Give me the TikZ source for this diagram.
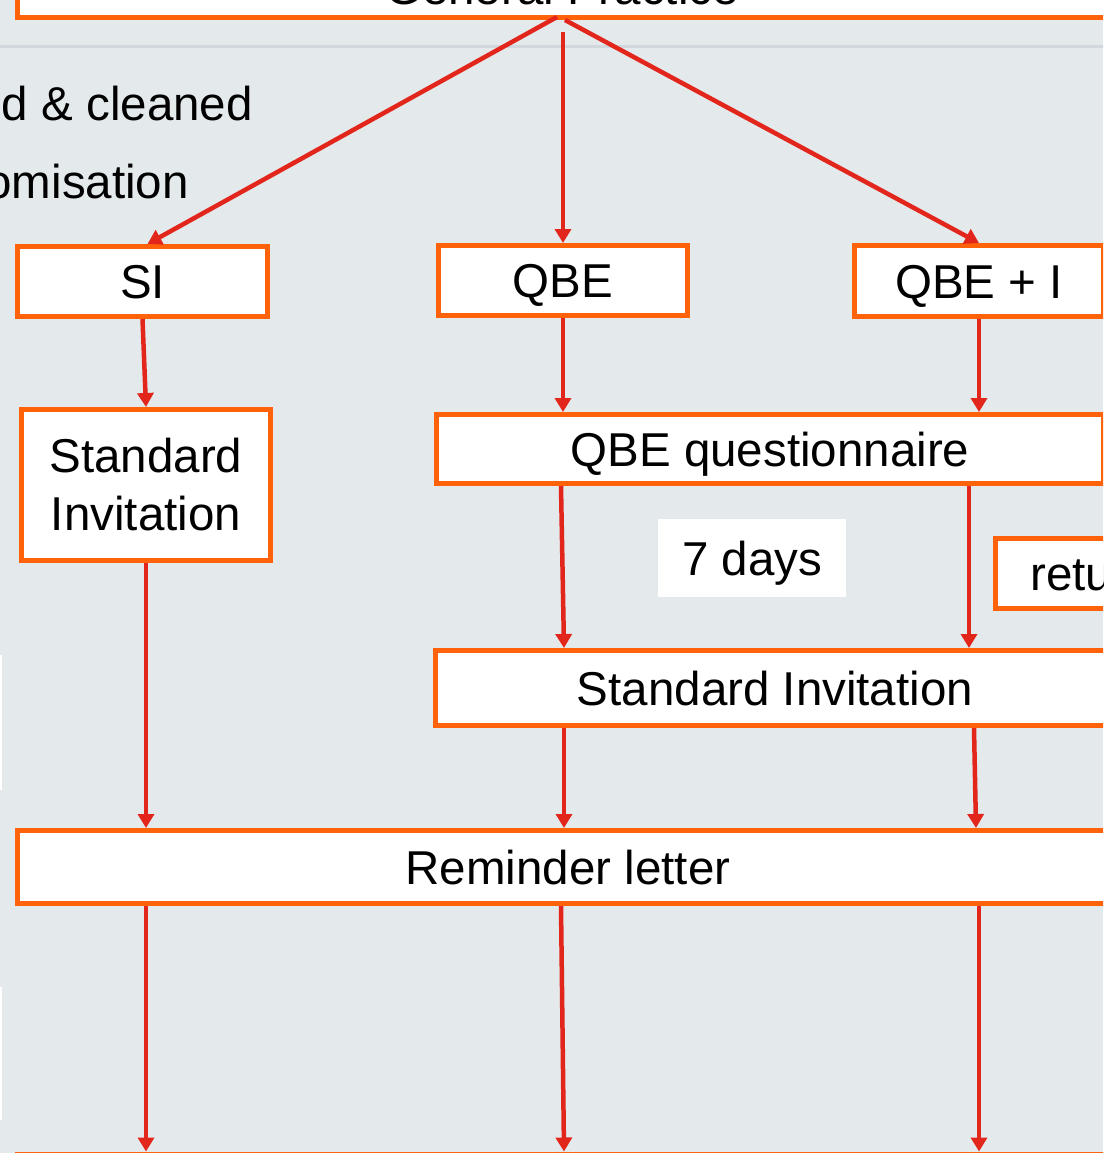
\documentclass[tikz,border=0pt]{standalone}
\usepackage{fontspec}
\setmainfont{Liberation Sans}
\usetikzlibrary{arrows.meta,calc}
\definecolor{panel}{HTML}{E4E9EC}
\definecolor{rulegrey}{HTML}{D0D8DD}
\definecolor{boxline}{HTML}{FF6209}
\definecolor{flow}{HTML}{E2261C}
\newcommand\labelfont{\fontsize{47.5}{58}\selectfont}
\begin{document}
\begin{tikzpicture}[x=1pt,y=-1pt,
  box/.style={draw=boxline, line width=5pt, fill=white, inner sep=0pt,
    text height=34pt, text depth=0pt, font=\labelfont},
  tag/.style={fill=white, inner sep=0pt, text height=34pt, text depth=0pt, font=\labelfont},
  note/.style={font=\labelfont, inner sep=0pt},
  flowarrow/.style={draw=flow, line width=4.5pt, -{Triangle[width=16pt,length=14pt]}}]
\useasboundingbox (0,0) rectangle (1103,1153);
\clip (0,0) rectangle (1103,1153);
\fill[panel] (0,0) rectangle (1103,1153);
\draw[rulegrey, line width=3pt] (-10,47) -- (1113,47);
% edges of white labels on the far left
\fill[white] (-50,655) rectangle (2,790);
\fill[white] (-50,987) rectangle (2,1120);

% column guides
\coordinate (c1) at (146,0);
\coordinate (c2) at (564,0);
\coordinate (c2a) at (561,0);
\coordinate (c3) at (979,0);
\coordinate (c3a) at (969,0);
\coordinate (c3b) at (974,0);
\coordinate (c3c) at (976,0);

% side notes
\node[note, anchor=base east] (noteA) at (253,121) {d \& cleaned};
\node[note, anchor=base east] (noteB) at (189,198) {omisation};

% boxes
\node[box, minimum width=1089pt, minimum height=59pt] (gp) at (562,-12) {General Practice};
\node[box, minimum width=250pt, minimum height=70pt] (si) at (142.5,281.5) {SI};
\node[box, minimum width=249pt, minimum height=70pt] (qbe) at (563,280.5) {QBE};
\node[box, minimum width=249pt, minimum height=71pt] (qbei) at (979,281) {QBE + I};
\node[box, minimum width=249pt, minimum height=151pt, align=center,
      text height=, text depth=] (stdl) at (146,485) {Standard\\Invitation};
\node[box, minimum width=667pt, minimum height=69pt] (qq) at (770,449) {QBE questionnaire};
\node[tag, minimum width=188pt, minimum height=78pt] (days) at (752,558) {7 days};
\node[box, anchor=west, minimum height=70pt, inner xsep=35pt] (ret) at (993,573.5) {retu};
\node[box, minimum width=679pt, minimum height=75pt] (stdm) at (775,688) {Standard Invitation};
\node[box, minimum width=1101pt, minimum height=73pt] (rem) at (568,867) {Reminder letter};
\node[box, minimum width=1101pt, minimum height=100pt] (next) at (568,1204) {};

% connectors
\coordinate (gpA) at (557,17);
\coordinate (gpB) at (563,32);
\coordinate (gpC) at (565,20);
\draw[flowarrow] (gpA) -- ([xshift=5pt]si.north);
\draw[flowarrow] (gpB) -- (qbe.north);
\draw[flowarrow] (gpC) -- (qbei.north);
\draw[flowarrow] (si.south) -- (stdl.north);
\draw[flowarrow] (qbe.south) -- (qbe.south |- qq.north);
\draw[flowarrow] (qbei.south) -- (qbei.south |- qq.north);
\draw[flowarrow] (qq.south -| c2a) -- (stdm.north -| c2);
\draw[flowarrow] (qq.south -| c3a) -- (stdm.north -| c3a);
\draw[flowarrow] (stdl.south) -- (rem.north -| stdl.south);
\draw[flowarrow] (stdm.south -| c2) -- (rem.north -| c2);
\draw[flowarrow] (stdm.south -| c3b) -- (rem.north -| c3c);
\draw[flowarrow] (rem.south -| c1) -- (next.north -| c1);
\draw[flowarrow] (rem.south -| c2a) -- (next.north -| c2);
\draw[flowarrow] (rem.south -| c3) -- (next.north -| c3);
\end{tikzpicture}
\end{document}
